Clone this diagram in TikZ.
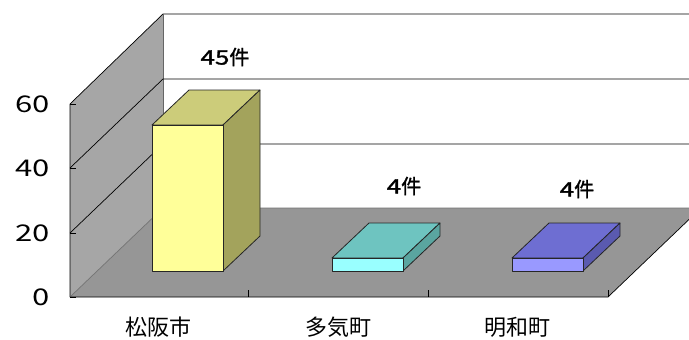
\documentclass[tikz,border=0pt]{standalone}
\usepackage{fontspec}
\newfontfamily\jpf{Noto Sans CJK JP}
\newfontfamily\numf[FakeStretch=1.35]{Noto Sans CJK JP}
\newfontfamily\numfb[FakeStretch=1.3,FakeBold=1.5]{Noto Sans CJK JP}
\newfontfamily\jpfb[FakeBold=1.5]{Noto Sans CJK JP}
\definecolor{wallL}{RGB}{166,166,166}
\definecolor{floorC}{RGB}{150,150,150}
\definecolor{yF}{RGB}{255,255,153}
\definecolor{yT}{RGB}{204,204,122}
\definecolor{yS}{RGB}{163,163,92}
\definecolor{cF}{RGB}{153,255,255}
\definecolor{cT}{RGB}{110,196,192}
\definecolor{cS}{RGB}{90,165,160}
\definecolor{bF}{RGB}{153,153,255}
\definecolor{bT}{RGB}{110,110,210}
\definecolor{bS}{RGB}{90,90,175}
\newcommand\drawbox[7]{%
  \filldraw[barline,fill=#6] (#1,#3)--(#1+37,#3-35)--(#2+37,#3-35)--(#2,#3)--cycle;
  \filldraw[barline,fill=#7] (#2,#3)--(#2+37,#3-35)--(#2+37,#4-35)--(#2,#4)--cycle;
  \filldraw[barline,fill=#5] (#1,#3) rectangle (#2,#4);
}
\begin{document}
\begin{tikzpicture}[x=1pt,y=-1pt,
  barline/.style={draw=black!85,line width=0.8pt,line join=round},
  gridline/.style={draw=black,line width=0.7pt},
  ylab/.style={anchor=east,font=\numf\fontsize{23}{23}\selectfont,inner sep=0pt},
  catlab/.style={font=\jpf\fontsize{22}{22}\selectfont,inner sep=0pt},
  vallab/.style={font=\numfb\fontsize{20}{20}\selectfont,inner sep=0pt}]
\useasboundingbox (0,0) rectangle (689,340);
\fill[white] (0,0) rectangle (689,340);
% left wall
\fill[wallL] (70,104)--(163,14)--(163,208)--(70,297)--cycle;
\draw[gridline] (70,297)--(70,104)--(163,14)--(689,14);
\draw[gridline,draw=black!60] (163,14)--(163,208);
\draw[gridline] (70,168)--(163,79)--(689,79);
\draw[gridline] (70,233)--(163,144)--(689,144);
% floor
\fill[floorC] (70,297)--(163,208)--(701,208)--(608,297)--cycle;
\draw[gridline,draw=black!55] (70,297)--(163,208)--(701,208);
\draw[gridline] (70,297)--(608,297)--(701,208);
% ticks
\foreach \yy in {104,168,233,297} \draw[gridline] (70,\yy)--(76,\yy);
\foreach \xx in {248,428,608} \draw[gridline] (\xx,290)--(\xx,297);
% bars
\drawbox{152}{223}{125}{271}{yF}{yT}{yS}
\drawbox{332}{403}{258}{271}{cF}{cT}{cS}
\drawbox{512}{583}{258}{271}{bF}{bT}{bS}
% axis labels
\node[ylab] (y60) at (50,104) {60};
\node[ylab] (y40) at (50,168) {40};
\node[ylab] (y20) at (50,233) {20};
\node[ylab] (y0) at (50,297) {0};
\node[catlab] (c1) at (158,327) {松阪市};
\node[catlab] (c2) at (338,327) {多気町};
\node[catlab] (c3) at (517,327) {明和町};
\node[vallab] (v1) at (225,57) {45{\jpfb 件}};
\node[vallab] (v2) at (404,186) {4{\jpfb 件}};
\node[vallab] (v3) at (577,189) {4{\jpfb 件}};
\end{tikzpicture}
\end{document}
